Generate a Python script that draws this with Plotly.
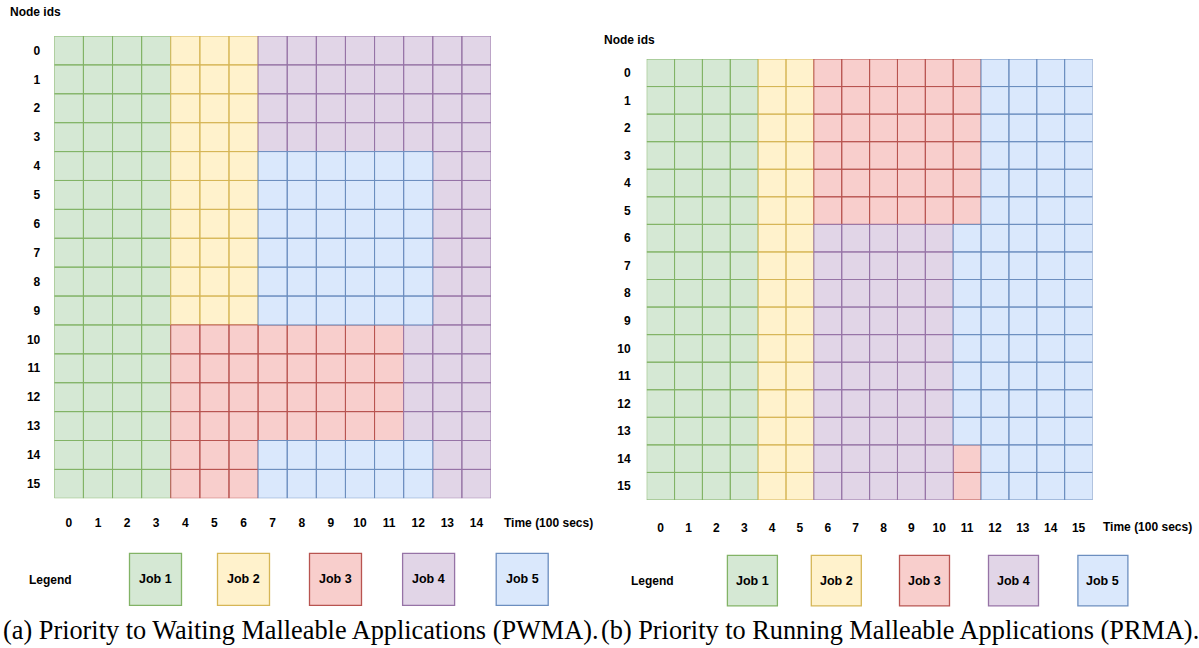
import plotly.graph_objects as go

# ---------------- data ----------------
JOBS = ["Job 1", "Job 2", "Job 3", "Job 4", "Job 5"]
NODE_IDS = list(range(16))
PWMA_TIMES = list(range(15))
PRMA_TIMES = list(range(16))

# job number (1..5) occupying each node (row) at each time slot (column)
PWMA_SCHEDULE = [
    "111122244444444",
    "111122244444444",
    "111122244444444",
    "111122244444444",
    "111122255555544",
    "111122255555544",
    "111122255555544",
    "111122255555544",
    "111122255555544",
    "111122255555544",
    "111133333333444",
    "111133333333444",
    "111133333333444",
    "111133333333444",
    "111133355555544",
    "111133355555544",
]
PRMA_SCHEDULE = [
    "1111223333335555",
    "1111223333335555",
    "1111223333335555",
    "1111223333335555",
    "1111223333335555",
    "1111223333335555",
    "1111224444455555",
    "1111224444455555",
    "1111224444455555",
    "1111224444455555",
    "1111224444455555",
    "1111224444455555",
    "1111224444455555",
    "1111224444455555",
    "1111224444435555",
    "1111224444435555",
]
CAPTIONS = [
    "(a) Priority to Waiting Malleable Applications (PWMA).",
    "(b) Priority to Running Malleable Applications (PRMA).",
]

# ---------------- styles ----------------
FILL = ["#d5e8d4", "#fff2cc", "#f8cecc", "#e1d5e7", "#dae8fc"]
LINE = ["#82b366", "#d6b656", "#b85450", "#9673a6", "#6c8ebf"]
W, H = 1199, 648
SANS = "Liberation Sans"
SERIF = "Liberation Serif"


def px(x):
    return x / W


def py(y):
    return 1 - y / H


fig = go.Figure()


def add_grid(schedule, times, xa, ya):
    for j in range(len(JOBS)):
        xs, ys = [], []
        for n, row in enumerate(schedule):
            for t, c in enumerate(row):
                if int(c) == j + 1:
                    xs += [t - 0.5, t + 0.5, t + 0.5, t - 0.5, t - 0.5, None]
                    ys += [n - 0.5, n - 0.5, n + 0.5, n + 0.5, n - 0.5, None]
        fig.add_trace(go.Scatter(
            x=xs, y=ys, mode="lines", fill="toself",
            fillcolor=FILL[j], line=dict(color=LINE[j], width=1),
            name=JOBS[j], showlegend=False, hoverinfo="skip",
            xaxis=xa, yaxis=ya,
        ))


add_grid(PWMA_SCHEDULE, PWMA_TIMES, "x", "y")
add_grid(PRMA_SCHEDULE, PRMA_TIMES, "x2", "y2")

tick_font = dict(family=SANS, size=12, color="#000000", weight="bold")


def xaxis(domain, times, anchor, standoff):
    return dict(domain=domain, range=[-0.5, len(times) - 0.5], anchor=anchor,
                tickvals=times, ticktext=[str(t) for t in times],
                showgrid=False, zeroline=False, showline=False, ticks="",
                tickfont=tick_font, ticklabelstandoff=standoff, fixedrange=True)


def yaxis(domain, nodes, anchor, standoff):
    return dict(domain=domain, range=[len(nodes) - 0.5, -0.5], anchor=anchor,
                tickvals=nodes, ticktext=[str(n) for n in nodes],
                showgrid=False, zeroline=False, showline=False, ticks="",
                tickfont=tick_font, ticklabelstandoff=standoff, fixedrange=True)


fig.update_layout(
    width=W, height=H,
    margin=dict(l=0, r=0, t=0, b=0),
    paper_bgcolor="white", plot_bgcolor="white",
    showlegend=False,
    xaxis=xaxis([px(54.3), px(491)], PWMA_TIMES, "y", 16),
    yaxis=yaxis([py(498.3), py(36)], NODE_IDS, "x", 13),
    xaxis2=xaxis([px(646.7), px(1092.5)], PRMA_TIMES, "y2", 19),
    yaxis2=yaxis([py(500), py(59)], NODE_IDS, "x2", 15),
)

annotations = []
shapes = []


def label(text, x, y, xanchor="left", size=12, family=SANS, weight="bold"):
    annotations.append(dict(
        text=text, x=px(x), y=py(y), xref="paper", yref="paper",
        xanchor=xanchor, yanchor="middle", showarrow=False,
        font=dict(family=family, size=size, color="#000000", weight=weight),
    ))


# axis titles
label("Node ids", 8, 12)
label("Time (100 secs)", 502, 523)
label("Node ids", 602, 40)
label("Time (100 secs)", 1101, 527)

# legends
LEG_LEFT_CENTERS = [155.5, 243.5, 335.5, 428.6, 522.2]
LEG_RIGHT_CENTERS = [752.4, 836.3, 924.5, 1013.5, 1102.9]
for centers, top, bottom, lx, ly, half in [
    (LEG_LEFT_CENTERS, 553.3, 605.3, 26.5, 580, 26),
    (LEG_RIGHT_CENTERS, 555.3, 605.8, 629, 581, 25),
]:
    label("Legend", lx, ly)
    for j, cx in enumerate(centers):
        shapes.append(dict(
            type="rect", xref="paper", yref="paper",
            x0=px(cx - half), x1=px(cx + half), y0=py(bottom), y1=py(top),
            fillcolor=FILL[j], line=dict(color=LINE[j], width=1.3),
        ))
        label(JOBS[j], cx, (top + bottom) / 2, xanchor="center", size=12.5)

# captions
label(CAPTIONS[0], 1, 630, size=26.3, family=SERIF, weight="normal")
label(CAPTIONS[1], 599, 630, size=26.3, family=SERIF, weight="normal")

fig.update_layout(annotations=annotations, shapes=shapes)
fig.write_html(
    "out.html",
    config={"displayModeBar": False, "staticPlot": True},
    post_script="document.body.style.margin='0';document.body.style.overflow='hidden';",
)
